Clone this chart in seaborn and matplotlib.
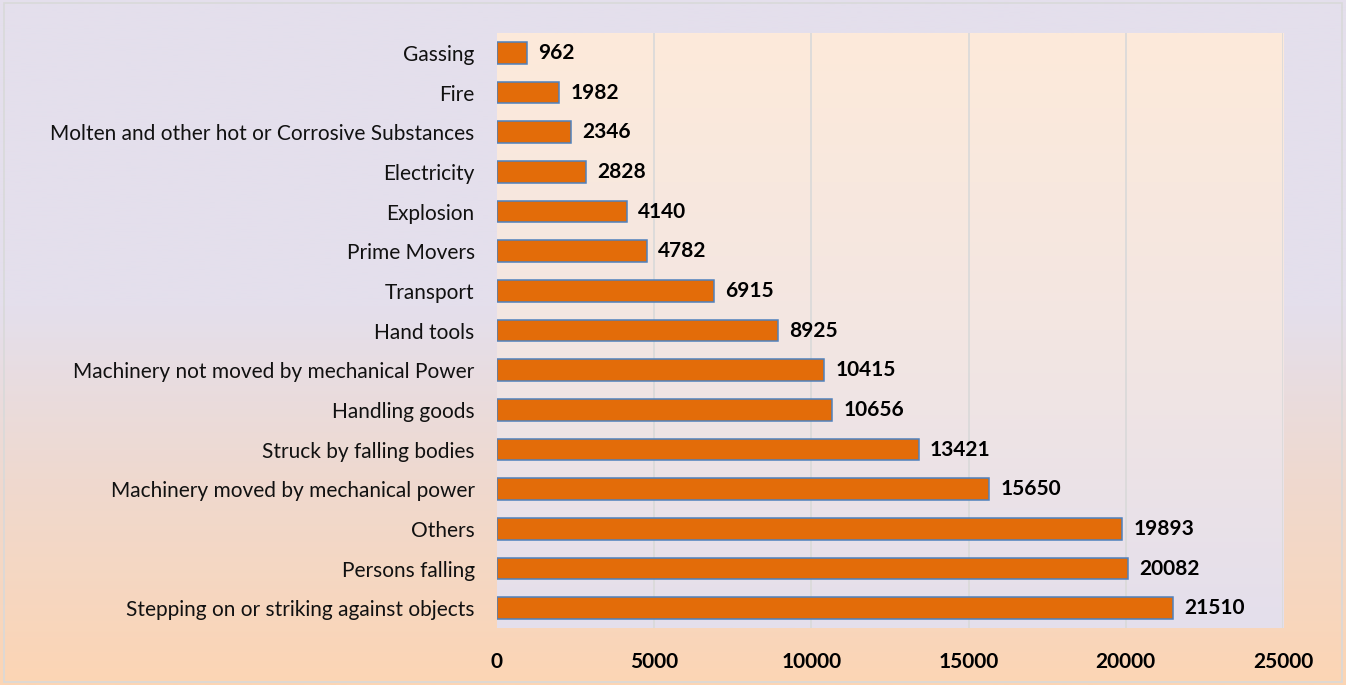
import numpy as np
import pandas as pd
import matplotlib
matplotlib.use("Agg")
import matplotlib.pyplot as plt
from matplotlib.colors import LinearSegmentedColormap
from matplotlib.patches import Rectangle
import seaborn as sns

categories = [
    "Gassing", "Fire", "Molten and other hot or Corrosive Substances",
    "Electricity", "Explosion", "Prime Movers", "Transport", "Hand tools",
    "Machinery not moved by mechanical Power", "Handling goods",
    "Struck by falling bodies", "Machinery moved by mechanical power",
    "Others", "Persons falling", "Stepping on or striking against objects",
]
values = [962, 1982, 2346, 2828, 4140, 4782, 6915, 8925, 10415, 10656,
          13421, 15650, 19893, 20082, 21510]
xticks = [0, 5000, 10000, 15000, 20000, 25000]

df = pd.DataFrame({"cause": categories, "count": values})

sns.set_theme(style="white")
plt.rcParams["font.family"] = ["Lato", "DejaVu Sans"]

fig = plt.figure(figsize=(13.46, 6.85), dpi=100)

# outer gradient background
bg = fig.add_axes([0, 0, 1, 1], zorder=-10)
outer_cmap = LinearSegmentedColormap.from_list(
    "outer", [(0, "#E4DFEC"), (0.45, "#E4DFEC"), (0.7, "#EFD9CF"), (1, "#FCD5B4")])
grad = np.linspace(0, 1, 256).reshape(-1, 1)
bg.imshow(grad, aspect="auto", cmap=outer_cmap, extent=[0, 1, 1, 0])
bg.set_xlim(0, 1); bg.set_ylim(1, 0)
bg.axis("off")
bg.add_patch(Rectangle((0.003, 0.005), 0.994, 0.99, fill=False,
                       edgecolor="#D9D9D9", lw=1.2, transform=bg.transAxes))

ax = fig.add_axes([0.3692, 0.0832, 0.5840, 0.8686])
ax.set_facecolor("none")
inner_cmap = LinearSegmentedColormap.from_list("inner", ["#FDEADA", "#F3E6E2", "#E4DFEC"])
ax.imshow(grad, aspect="auto", cmap=inner_cmap, extent=[0, 1, 0, 1],
          transform=ax.transAxes, zorder=0)

sns.barplot(data=df, y="cause", x="count", orient="h", color="#E36C09",
            width=0.55, edgecolor="#4F81BD", linewidth=1.1, saturation=1,
            ax=ax, zorder=3)

ax.set_xlim(0, 25000)
ax.set_xticks(xticks)
ax.set_xticklabels([str(t) for t in xticks], fontweight="bold", fontsize=15, color="black")
ax.set_xlabel("")
ax.set_ylabel("")
ax.tick_params(axis="x", length=0, pad=17)
ax.tick_params(axis="y", length=0, pad=16, labelsize=15, labelcolor="#111111")
for t in xticks[1:]:
    ax.axvline(t, color="#D9D9D9", lw=1.2, zorder=1)
for s in ax.spines.values():
    s.set_visible(False)
ax.grid(False)

for i, v in enumerate(values):
    ax.annotate(str(v), (v, i), xytext=(8, 0), textcoords="offset points",
                va="center", ha="left", fontsize=15, fontweight="bold", color="black",
                zorder=5)

fig.savefig("out.png", dpi=100)
